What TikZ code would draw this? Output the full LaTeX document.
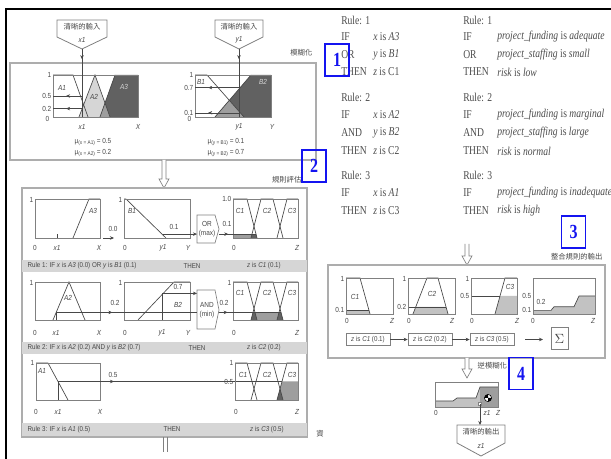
\documentclass[tikz,border=0pt]{standalone}
\usepackage{fontspec}
\setmainfont[FakeStretch=0.8]{Liberation Serif}
\newfontfamily\lsans[FakeStretch=0.88]{Liberation Sans}
\newfontfamily\cjk{Noto Sans CJK TC}
\usetikzlibrary{arrows.meta,decorations.markings}
\definecolor{framec}{gray}{0.5}
\definecolor{panelc}{gray}{0.68}
\definecolor{inkc}{gray}{0.28}
\definecolor{bandc}{gray}{0.84}
\definecolor{darkf}{gray}{0.38}
\definecolor{midf}{gray}{0.62}
\definecolor{lightf}{gray}{0.84}
\definecolor{aggf}{gray}{0.76}
\definecolor{ruletext}{gray}{0.3}
\definecolor{bluec}{RGB}{20,20,240}
\newcommand{\drawCset}[3]{%
  \draw[mf] (#3,#1) -- (247,#1) -- (257,#2);
  \draw[mf] (251,#2) -- (261,#1) -- (273,#1) -- (283,#2);
  \draw[mf] (277,#2) -- (287,#1) -- (298,#1);
}
\newcommand{\musub}[1]{μ\raisebox{-1.2pt}{\fontsize{4}{4}\selectfont(#1)}}
\tikzset{
  frm/.style={draw=framec, line width=0.5pt},
  mf/.style={draw=inkc, line width=0.5pt},
  conn/.style={draw=inkc, line width=0.4pt},
  panel/.style={draw=panelc, line width=0.9pt},
  hollow/.style={draw=framec, fill=white, line width=0.5pt},
  pent/.style={draw=framec, fill=white, line width=0.6pt},
  lb/.style={font=\lsans\fontsize{5.5}{6}\selectfont, text=inkc, inner sep=0.3pt},
  lbi/.style={font=\lsans\itshape\fontsize{5.5}{6}\selectfont, text=inkc, inner sep=0.3pt},
  lbw/.style={font=\lsans\itshape\fontsize{5.5}{6}\selectfont, text=lightf, inner sep=0.3pt},
  cj/.style={font=\cjk\fontsize{5.5}{6}\selectfont, text=inkc, inner sep=0.3pt},
  captxt/.style={font=\lsans\fontsize{5.3}{6}\selectfont, text=inkc, inner sep=0.3pt},
  rt/.style={font=\fontsize{9}{10}\selectfont, text=ruletext, anchor=west, inner sep=0pt},
  numbox/.style={draw=bluec, line width=0.9pt, text=bluec, font=\bfseries\fontsize{15}{15}\selectfont, minimum width=18pt, minimum height=24pt, inner sep=0pt},
  opbox/.style={draw=framec, fill=white, line width=0.5pt},
  zbox/.style={draw=framec, line width=0.5pt, font=\lsans\fontsize{5.3}{6}\selectfont, text=inkc, inner sep=1pt, minimum height=9.5pt, minimum width=33pt},
  arr/.style={-{Stealth[length=3pt,width=2.6pt]}},
  marr/.style={postaction={decorate}, decoration={markings, mark=at position #1 with {\arrow{Stealth[length=3pt,width=2.6pt]}}}},
}
\begin{document}
\begin{tikzpicture}[x=0.75pt,y=-0.75pt]
\useasboundingbox (0,0) rectangle (611,459);
\fill[white] (0,0) rectangle (611,459);
\draw[line width=2pt] (6,459) -- (6,9) -- (611,9);

%% ================= Section 1: fuzzification
\draw[panel] (10,63) rectangle (316,160);
\node[cj, anchor=east] (fuzzlab) at (313,53) {模糊化};

\draw[pent] (57,20) -- (107,20) -- (107,37) -- (82,49) -- (57,37) -- cycle;
\node[cj] (inxt) at (82,27) {清晰的輸入};
\node[lbi] (inxv) at (82,40) {x1};
\coordinate (inxtip) at (82,49);
\draw[pent] (215,20) -- (263,20) -- (263,37) -- (239,49) -- (215,37) -- cycle;
\node[cj] (inyt) at (239,27) {清晰的輸入};
\node[lbi] (inyv) at (239,40) {y1};
\coordinate (inytip) at (239,49);

% plot X
\fill[lightf] (79,117) -- (95,75) -- (110,117) -- cycle;
\fill[darkf] (100,117) -- (115,75) -- (138,75) -- (138,117) -- cycle;
\fill[midf] (100,117) -- (105,103) -- (110,117) -- cycle;
\draw[mf] (53,75) -- (73,75) -- (88,117);
\draw[mf] (79,117) -- (95,75) -- (110,117);
\draw[mf] (100,117) -- (115,75);
\draw[frm] (53,75) rectangle (138,117);
\coordinate (xax) at (82,117);
\coordinate (xa05) at (82,96);
\coordinate (xl05) at (53,96);
\coordinate (xa02) at (82,108.6);
\coordinate (xl02) at (53,108.6);
\draw[conn, marr=0.15] (inxtip) -- (xax);
\draw[conn, marr=0.55] (xa05) -- (xl05);
\draw[conn, marr=0.55] (xa02) -- (xl02);
\node[lb, anchor=east] (fx1) at (52,75) {1};
\node[lb, anchor=east] (fx05) at (52,96) {0.5};
\node[lb, anchor=east] (fx02) at (52,108.6) {0.2};
\node[lb, anchor=east] (fx0) at (50,119) {0};
\node[lbi] (fxx1) at (82,127) {x1};
\node[lbi] (fxX) at (138,127) {X};
\node[lbi] (fA1) at (62,88) {A1};
\node[lbi] (fA2) at (94,97) {A2};
\node[lbw] (fA3) at (124,87) {A3};
\node[lb] (mux1) at (93,142) {\musub{x = A1} = 0.5};
\node[lb] (mux2) at (93,153) {\musub{x = A2} = 0.2};

% plot Y
\fill[darkf] (215,117) -- (251,75) -- (271,75) -- (271,117) -- cycle;
\fill[midf] (215,117) -- (229.3,100.3) -- (244,117) -- cycle;
\draw[mf] (195,75) -- (207,75) -- (244,117);
\draw[mf] (215,117) -- (251,75);
\draw[frm] (195,75) rectangle (271,117);
\coordinate (yax) at (239,117);
\coordinate (ya07) at (239,87.6);
\coordinate (yl07) at (195,87.6);
\coordinate (ya01) at (239,112.8);
\coordinate (yl01) at (195,112.8);
\draw[conn, marr=0.15] (inytip) -- (yax);
\draw[conn, marr=0.7] (ya07) -- (yl07);
\draw[conn, marr=0.7] (ya01) -- (yl01);
\node[lb, anchor=east] (fy1) at (194,75) {1};
\node[lb, anchor=east] (fy07) at (194,87.6) {0.7};
\node[lb, anchor=east] (fy01) at (194,112.8) {0.1};
\node[lb, anchor=east] (fy0) at (192,119) {0};
\node[lbi] (fyy1) at (239,127) {y1};
\node[lbi] (fyY) at (272,127) {Y};
\node[lbi] (fB1) at (201,82) {B1};
\node[lbw] (fB2) at (263,82) {B2};
\node[lb] (muy1) at (226,142) {\musub{y = B1} = 0.1};
\node[lb] (muy2) at (226,153) {\musub{y = B2} = 0.7};

% hollow arrow 1 -> 2
\draw[hollow] (162,160) -- (162,179) -- (159,179) -- (164,188) -- (169,179) -- (166,179) -- (166,160);

%% ================= Section 2: rule evaluation
\draw[panel] (22,188) rectangle (307,437);
\node[cj, anchor=east] (evallab) at (302,180) {規則評估};

% ---- row 1
\draw[mf] (73,238) -- (89,199) -- (100,199);
\draw[frm] (35,199) rectangle (100,238);
\draw[conn] (57,238) -- (57,234.5);
\node[lb, anchor=east] (r1x1) at (34,200) {1};
\node[lbi] (r1A3) at (93,211) {A3};
\node[lb] (r1x0) at (35,248) {0};
\node[lbi] (r1xx) at (57,248) {x1};
\node[lbi] (r1xX) at (99,248) {X};
\node[lb] (r1v00) at (113,229) {0.0};
\coordinate (r1a) at (103,238);
\coordinate (r1b) at (114,238);
\draw[conn, arr] (r1a) -- (r1b);

\draw[mf] (124,199) -- (126,199) -- (166,238);
\draw[frm] (124,199) rectangle (190,238);
\node[lb, anchor=east] (r1y1) at (123,200) {1};
\node[lbi] (r1B1) at (132,211) {B1};
\node[lb] (r1y0) at (125,248) {0};
\node[lbi] (r1yy) at (163,248) {y1};
\node[lbi] (r1yY) at (188,248) {Y};
\node[lb] (r1v01) at (174,227) {0.1};

\draw[opbox] (197,215) -- (215,215) -- (219,229) -- (215,243) -- (197,243) -- cycle;
\node[lb] (orop) at (207,224) {OR};
\node[lb] (ormx) at (207,234) {(max)};
\coordinate (r1yp) at (163,234.1);
\coordinate (orin) at (197,234.1);
\coordinate (orout) at (219,234.1);
\coordinate (r1cend) at (256,234.1);
\draw[conn, arr] (r1yp) -- (orin);

\fill[midf] (233,238) -- (233,234.1) -- (256,234.1) -- (257,238) -- cycle;
\fill[darkf] (251,238) -- (252,234.1) -- (256,234.1) -- (257,238) -- cycle;
\drawCset{199}{238}{233}
\draw[frm] (233,199) rectangle (298,238);
\draw[conn, marr=0.25] (orout) -- (r1cend);
\node[lb, anchor=east] (r1c1) at (232,199) {1.0};
\node[lb] (r1c01) at (227,224) {0.1};
\node[lbi] (r1C1) at (240,211) {C1};
\node[lbi] (r1C2) at (267,211) {C2};
\node[lbi] (r1C3) at (292,211) {C3};
\node[lb] (r1z0) at (234,248) {0};
\node[lbi] (r1zZ) at (297,248) {Z};

\fill[bandc] (22,260) rectangle (307,272);
\node[captxt, anchor=west] (cap1a) at (27,266) {Rule 1: IF \textit{x} is \textit{A3} (0.0) OR \textit{y} is \textit{B1} (0.1)};
\node[captxt] (cap1b) at (192,266) {THEN};
\node[captxt] (cap1c) at (264,266) {\textit{z} is \textit{C1} (0.1)};

% ---- row 2
\draw[mf] (53,320) -- (69,282) -- (85,320);
\draw[frm] (35,282) rectangle (100,320);
\draw[conn] (56,320) -- (56,312.4);
\coordinate (r2xp) at (56,312.4);
\node[lb, anchor=east] (r2x1) at (34,283) {1};
\node[lbi] (r2A2) at (68,298) {A2};
\node[lb] (r2x0) at (35,333) {0};
\node[lbi] (r2xx) at (56,333) {x1};
\node[lbi] (r2xX) at (99,333) {X};
\node[lb] (r2v02) at (115,303) {0.2};

\draw[mf] (138,320) -- (174,282) -- (190,282);
\draw[frm] (124,282) rectangle (190,320);
\draw[conn] (162,320) -- (162,293.4);
\coordinate (r2yp) at (162,293.4);
\node[lb, anchor=east] (r2y1) at (123,283) {1};
\node[lbi] (r2B2) at (178,305) {B2};
\node[lb] (r2v07) at (178,287) {0.7};
\node[lb] (r2y0) at (125,333) {0};
\node[lbi] (r2yy) at (162,333) {y1};
\node[lbi] (r2yY) at (188,333) {Y};

\draw[opbox] (197,290) -- (215,290) -- (219,310) -- (215,329) -- (197,329) -- cycle;
\node[lb] (andop) at (207,305) {AND};
\node[lb] (andmn) at (207,315) {(min)};
\coordinate (andin1) at (197,293.4);
\coordinate (andin2) at (197,312.4);
\coordinate (andout) at (219,312.4);
\coordinate (r2cend) at (281,312.4);
\draw[conn, marr=0.4] (r2xp) -- (andin2);
\draw[conn, arr] (r2yp) -- (andin1);

\fill[midf] (251,320) -- (253,312.4) -- (281,312.4) -- (283,320) -- cycle;
\fill[darkf] (251,320) -- (253,312.4) -- (255,312.4) -- (257,320) -- cycle;
\fill[darkf] (277,320) -- (279,312.4) -- (281,312.4) -- (283,320) -- cycle;
\drawCset{282}{320}{233}
\draw[frm] (233,282) rectangle (298,320);
\draw[conn, marr=0.14] (andout) -- (r2cend);
\node[lb, anchor=east] (r2c1) at (232,283) {1};
\node[lb] (r2c02) at (224,303) {0.2};
\node[lbi] (r2C1) at (240,293) {C1};
\node[lbi] (r2C2) at (267,293) {C2};
\node[lbi] (r2C3) at (292,293) {C3};
\node[lb] (r2z0) at (234,333) {0};
\node[lbi] (r2zZ) at (297,333) {Z};

\fill[bandc] (22,342) rectangle (307,354);
\node[captxt, anchor=west] (cap2a) at (27,348) {Rule 2: IF \textit{x} is \textit{A2} (0.2) AND \textit{y} is \textit{B2} (0.7)};
\node[captxt] (cap2b) at (197,348) {THEN};
\node[captxt] (cap2c) at (264,348) {\textit{z} is \textit{C2} (0.2)};

% ---- row 3
\draw[mf] (36,363) -- (48,363) -- (68,400);
\draw[frm] (36,363) rectangle (100,400);
\draw[conn] (58,400) -- (58,381.5);
\coordinate (r3xp) at (58,381.5);
\coordinate (r3cend) at (282,381.5);
\draw[conn, marr=0.25] (r3xp) -- (r3cend);
\node[lb, anchor=east] (r3x1) at (35,363) {1};
\node[lbi] (r3A1) at (42,371) {A1};
\node[lb] (r3v05) at (113,375) {0.5};
\node[lb] (r3x0) at (36,412) {0};
\node[lbi] (r3xx) at (58,412) {x1};
\node[lbi] (r3xX) at (100,412) {X};

\fill[midf] (277,400) -- (282,381.5) -- (298,381.5) -- (298,400) -- cycle;
\fill[darkf] (277,400) -- (280,388.9) -- (283,400) -- cycle;
\drawCset{363}{400}{235}
\draw[frm] (235,363) rectangle (298,400);
\node[lb, anchor=east] (r3c1) at (234,363) {1};
\node[lb, anchor=east] (r3c05) at (234,381.5) {0.5};
\node[lbi] (r3C1) at (243,375) {C1};
\node[lbi] (r3C2) at (267,375) {C2};
\node[lbi] (r3C3) at (292,375) {C3};
\node[lb] (r3z0) at (236,412) {0};
\node[lbi] (r3zZ) at (297,412) {Z};

\fill[bandc] (22,423) rectangle (307,436);
\node[captxt, anchor=west] (cap3a) at (27,429.5) {Rule 3: IF \textit{x} is \textit{A1} (0.5)};
\node[captxt] (cap3b) at (172,429.5) {THEN};
\node[captxt] (cap3c) at (267,429.5) {\textit{z} is \textit{C3} (0.5)};

\draw[framec, line width=0.5pt] (163,437) -- (163,452) (167,437) -- (167,452);
\node[cj] (stray) at (320,434) {資};

%% ================= rule text (right)
\node[rt] (ra1) at (341,20) {Rule: 1};
\node[rt] (ra2) at (341,37) {IF};
\node[rt] (ra2b) at (373,37) {\textit{x} is \textit{A3}};
\node[rt] (ra3) at (341,55) {OR};
\node[rt] (ra3b) at (373,55) {\textit{y} is \textit{B1}};
\node[rt] (ra4) at (341,72) {THEN};
\node[rt] (ra4b) at (373,72) {\textit{z} is C1};
\node[rt] (ra5) at (341,97) {Rule: 2};
\node[rt] (ra6) at (341,115) {IF};
\node[rt] (ra6b) at (373,115) {\textit{x} is \textit{A2}};
\node[rt] (ra7) at (341,133) {AND};
\node[rt] (ra7b) at (373,133) {\textit{y} is \textit{B2}};
\node[rt] (ra8) at (341,151) {THEN};
\node[rt] (ra8b) at (373,151) {\textit{z} is C2};
\node[rt] (ra9) at (341,175) {Rule: 3};
\node[rt] (ra10) at (341,193) {IF};
\node[rt] (ra10b) at (373,193) {\textit{x} is \textit{A1}};
\node[rt] (ra11) at (341,211) {THEN};
\node[rt] (ra11b) at (373,211) {\textit{z} is C3};

\node[rt] (rb1) at (463,20) {Rule: 1};
\node[rt] (rb2) at (463,37) {IF};
\node[rt] (rb2b) at (497,37) {\textit{project\_funding} is \textit{adequate}};
\node[rt] (rb3) at (463,55) {OR};
\node[rt] (rb3b) at (497,55) {\textit{project\_staffing} is \textit{small}};
\node[rt] (rb4) at (463,72) {THEN};
\node[rt] (rb4b) at (497,72) {\textit{risk} is \textit{low}};
\node[rt] (rb5) at (463,97) {Rule: 2};
\node[rt] (rb6) at (463,115) {IF};
\node[rt] (rb6b) at (497,115) {\textit{project\_funding} is \textit{marginal}};
\node[rt] (rb7) at (463,133) {AND};
\node[rt] (rb7b) at (497,133) {\textit{project\_staffing} is \textit{large}};
\node[rt] (rb8) at (463,151) {THEN};
\node[rt] (rb8b) at (497,151) {\textit{risk} is \textit{normal}};
\node[rt] (rb9) at (463,175) {Rule: 3};
\node[rt] (rb10) at (463,193) {IF};
\node[rt] (rb10b) at (497,193) {\textit{project\_funding} is \textit{inadequate}};
\node[rt] (rb11) at (463,211) {THEN};
\node[rt] (rb11b) at (497,211) {\textit{risk} is \textit{high}};

%% ================= Section 3: aggregation
\draw[hollow] (465,244) -- (465,256) -- (462,256) -- (467,265) -- (472,256) -- (469,256) -- (469,244);
\draw[panel] (328,265) rectangle (605,358);
\node[cj, anchor=east] (agglab) at (603,257) {整合規則的輸出};

% C1
\fill[aggf] (346,314) -- (346,310.4) -- (369,310.4) -- (370,314) -- cycle;
\draw[mf] (346,278) -- (360,278) -- (370,314);
\draw[conn] (346,310.4) -- (369,310.4);
\draw[frm] (346,278) rectangle (393,314);
\node[lb, anchor=east] (a1one) at (345,279) {1};
\node[lb, anchor=east] (a1v) at (345,310.4) {0.1};
\node[lbi] (a1C) at (355,297) {C1};
\node[lb] (a1z0) at (347,321) {0};
\node[lbi] (a1zZ) at (392,321) {Z};
% C2
\fill[aggf] (413,314) -- (415.8,306.8) -- (446,306.8) -- (448,314) -- cycle;
\draw[mf] (413,314) -- (427,278) -- (438,278) -- (448,314);
\draw[conn] (408,306.8) -- (446,306.8);
\draw[frm] (408,278) rectangle (455,314);
\node[lb, anchor=east] (a2one) at (407,279) {1};
\node[lb, anchor=east] (a2v) at (407,306.8) {0.2};
\node[lbi] (a2C) at (432,294) {C2};
\node[lb] (a2z0) at (409,321) {0};
\node[lbi] (a2zZ) at (452,321) {Z};
% C3
\fill[aggf] (495,314) -- (500,296) -- (517,296) -- (517,314) -- cycle;
\draw[mf] (495,314) -- (505,278) -- (517,278);
\draw[conn] (471,296) -- (500,296);
\draw[frm] (471,278) rectangle (517,314);
\node[lb, anchor=east] (a3one) at (470,279) {1};
\node[lb, anchor=east] (a3v) at (470,296) {0.5};
\node[lbi] (a3C) at (510,287) {C3};
\node[lb] (a3z0) at (472,321) {0};
\node[lbi] (a3zZ) at (517,321) {Z};
% aggregate
\fill[aggf] (533,310.4) -- (551,310.4) -- (554,306.8) -- (574,306.8) -- (579,296) -- (595,296) -- (595,314) -- (533,314) -- cycle;
\draw[mf] (533,310.4) -- (551,310.4) -- (554,306.8) -- (574,306.8) -- (579,296) -- (595,296);
\draw[frm] (533,278) rectangle (595,314);
\node[lb, anchor=east] (a4v5) at (532,296) {0.5};
\node[lb, anchor=east] (a4v1) at (532,310.4) {0.1};
\node[lb] (a4v2) at (541,301.5) {0.2};
\node[lb] (a4z0) at (533,321) {0};
\node[lbi] (a4zZ) at (593,321) {Z};

\node[zbox] (zc1) at (368,339.5) {\textit{z} is \textit{C1} (0.1)};
\node[zbox] (zc2) at (430,339.5) {\textit{z} is \textit{C2} (0.2)};
\node[zbox] (zc3) at (492,339.5) {\textit{z} is \textit{C3} (0.5)};
\node[draw=framec, line width=0.5pt, minimum width=12.5pt, minimum height=17pt, inner sep=0pt, font=\fontsize{10}{10}\selectfont, text=inkc] (sig) at (559.5,338.5) {$\Sigma$};
\coordinate (sarrs) at (525,339.5);
\coordinate (sarre) at (543,339.5);
\draw[conn, arr] (zc1) -- (zc2);
\draw[conn, arr] (zc2) -- (zc3);
\draw[conn, arr] (sarrs) -- (sarre);

%% ================= Section 4: defuzzification
\draw[hollow] (465,358) -- (465,369) -- (462,369) -- (467,378) -- (472,369) -- (469,369) -- (469,358);
\node[cj, anchor=west] (defzlab) at (477,366) {逆模糊化};
\fill[aggf] (435,401) -- (453,401) -- (457,398) -- (476,398) -- (480,387) -- (498,387) -- (498,407) -- (435,407) -- cycle;
\fill[midf] (480,387) -- (498,387) -- (498,407) -- (480,407) -- cycle;
\draw[mf] (435,401) -- (453,401) -- (457,398) -- (476,398) -- (480,387) -- (498,387);
\draw[frm] (435,382) rectangle (498,407);
\draw[black, line width=0.4pt, fill=white] (488,398) circle[radius=3.6];
\fill[black] (488,398) -- (491.6,398) arc[start angle=0, end angle=90, radius=3.6] -- cycle;
\fill[black] (488,398) -- (484.4,398) arc[start angle=180, end angle=270, radius=3.6] -- cycle;
\node[lb] (dz0) at (436,413) {0};
\node[lbi] (dzz1) at (487,413) {z1};
\node[lbi] (dzZ) at (498,413) {Z};
\coordinate (z1top) at (480,404);
\draw[framec, line width=0.4pt, fill=white] (478.5,402.5) rectangle (481.5,405.5);
\draw[pent] (457,425) -- (505,425) -- (505,443) -- (481,456) -- (457,443) -- cycle;
\coordinate (outtop) at (480,425);
\node[cj] (outt) at (481,432) {清晰的輸出};
\node[lbi] (outv) at (481,446) {z1};
\draw[conn, arr] (z1top) -- (outtop);

%% ================= blue numbered boxes
\node[numbox] (nb1) at (337,60) {1};
\node[numbox] (nb2) at (314,166) {2};
\node[numbox] (nb3) at (573.5,232) {3};
\node[numbox] (nb4) at (521,373.5) {4};
\end{tikzpicture}
\end{document}
